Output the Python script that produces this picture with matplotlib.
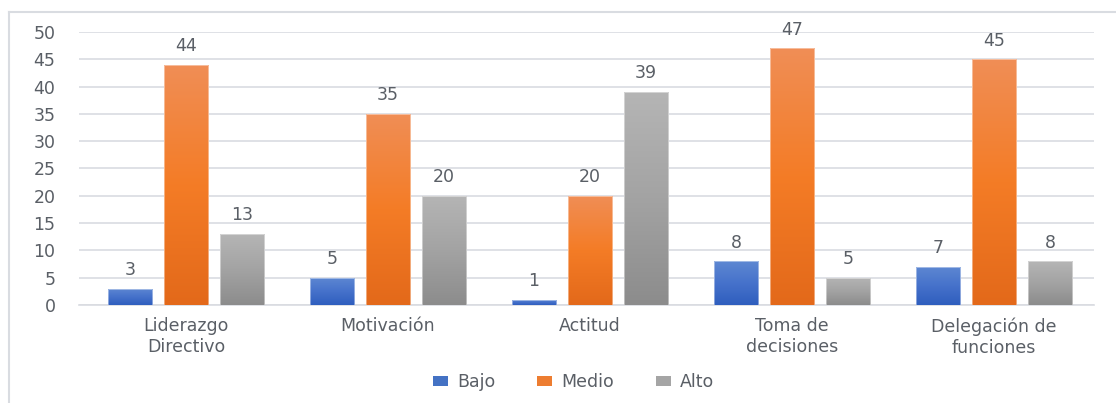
import numpy as np
import matplotlib
matplotlib.use("Agg")
import matplotlib.pyplot as plt
from matplotlib.colors import LinearSegmentedColormap
from matplotlib.patches import Rectangle, Patch
from matplotlib.lines import Line2D

plt.rcParams['font.family'] = ['DejaVu Sans']

categories = ["Liderazgo\nDirectivo", "Motivación", "Actitud", "Toma de\ndecisiones", "Delegación de\nfunciones"]
series_names = ["Bajo", "Medio", "Alto"]
bajo = [3, 5, 1, 8, 7]
medio = [44, 35, 20, 47, 45]
alto = [13, 20, 39, 5, 8]
y_ticks = [0, 5, 10, 15, 20, 25, 30, 35, 40, 45, 50]

series_values = [bajo, medio, alto]
# gradient stops (top -> bottom) and legend colour for each series
gradients = [
    ["#5E88D2", "#4672CB", "#2F5EBE"],
    ["#F08E56", "#F47C26", "#E3691A"],
    ["#B5B5B5", "#A3A3A3", "#8C8C8C"],
]
legend_colors = ["#4472C4", "#ED7D31", "#A5A5A5"]

text_color = "#5A5F66"
grid_color = "#D9DCE1"
fs = 12.5

fig = plt.figure(figsize=(11.16, 4.03), dpi=100)
ax = fig.add_axes([79 / 1116, 0.2432, 1015 / 1116, 0.6774])

x = np.arange(len(categories))
width = 0.218
step = 0.277
xlim = (-0.53, 4.495)

grad = np.linspace(0, 1, 256).reshape(-1, 1)
for i, (vals, stops) in enumerate(zip(series_values, gradients)):
    cmap = LinearSegmentedColormap.from_list(f"g{i}", stops)
    bars = ax.bar(x + (i - 1) * step, vals, width, color="none",
                  edgecolor="none", zorder=3)
    for b, v in zip(bars, vals):
        x0, w, h = b.get_x(), b.get_width(), b.get_height()
        im = ax.imshow(grad, cmap=cmap, aspect="auto",
                       extent=[x0, x0 + w, 0, h], origin="upper",
                       zorder=3, interpolation="bilinear")
        im.set_clip_path(b)
        ax.add_patch(Rectangle((x0, 0), w, h, facecolor="none",
                               edgecolor="white", linewidth=0.6,
                               alpha=0.5, zorder=4))
        ax.annotate(str(v), (x0 + w / 2, h), xytext=(0, 7),
                    textcoords="offset points", ha="center", va="bottom",
                    fontsize=fs, color=text_color, zorder=5)

ax.set_xlim(*xlim)
ax.set_ylim(0, 50)

ax.set_yticks(y_ticks)
ax.set_yticklabels([str(t) for t in y_ticks], fontsize=fs, color=text_color)
ax.set_xticks(x)
ax.set_xticklabels(categories, fontsize=fs, color=text_color, linespacing=1.2)
ax.tick_params(axis="both", length=0)
ax.tick_params(axis="y", pad=17)
ax.tick_params(axis="x", pad=9)

ax.grid(axis="y", color=grid_color, linewidth=1.2, zorder=0)
ax.set_axisbelow(True)
for s in ["top", "right", "left"]:
    ax.spines[s].set_visible(False)
ax.spines["bottom"].set_color(grid_color)
ax.spines["bottom"].set_linewidth(1.2)

handles = [Patch(facecolor=c, edgecolor="none") for c in legend_colors]
fig.legend(handles, series_names, loc="center", bbox_to_anchor=(0.514, 0.052),
           ncol=3, frameon=False, fontsize=fs, labelcolor=text_color,
           handlelength=0.85, handleheight=0.45,
           handletextpad=0.55, columnspacing=2.4)

# chart area frame
fig.add_artist(Line2D([9 / 1116, 9 / 1116], [0, 1 - 12 / 403],
                      transform=fig.transFigure, color=grid_color, linewidth=1.5))
fig.add_artist(Line2D([9 / 1116, 1], [1 - 12 / 403, 1 - 12 / 403],
                      transform=fig.transFigure, color=grid_color, linewidth=1.5))

fig.savefig("out.png", dpi=100, facecolor="white")
